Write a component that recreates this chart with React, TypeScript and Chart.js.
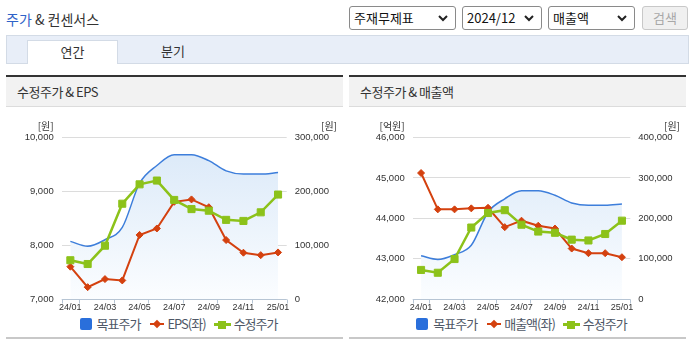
import React, { useEffect, useRef } from 'react';
import { Chart, registerables } from 'chart.js';

Chart.register(...registerables);

// ---------- data ----------
const months = ['24/01', '24/02', '24/03', '24/04', '24/05', '24/06', '24/07', '24/08', '24/09', '24/10', '24/11', '24/12', '25/01'];
const targetPrice = [107000, 98000, 110000, 133000, 215000, 248000, 268000, 268000, 257000, 238000, 232000, 232000, 235000];
const adjPrice = [72000, 65000, 99000, 177000, 213000, 220000, 184000, 167000, 164000, 147000, 145000, 161000, 194000];
const eps = [7600, 7220, 7370, 7345, 8190, 8310, 8805, 8850, 8705, 8095, 7860, 7815, 7865];
const sales = [45120, 44220, 44220, 44245, 44260, 43780, 43940, 43815, 43745, 43250, 43135, 43135, 43035];

const epsAxis = [7000, 10000, 1000];
const salesAxis = [42000, 46000, 1000];
const priceAxisLeftChart = [0, 300000, 100000];
const priceAxisRightChart = [0, 400000, 100000];

// ---------- styles ----------
const BLUE = '#3d7edb';
const RED = '#d4410f';
const GREEN = '#8cc21a';
const KR = '"Noto Sans CJK KR", "Noto Sans", sans-serif';
const NUM = '"Liberation Sans", Arial, sans-serif';

const fmt = (v: number | string) => Number(v).toLocaleString('en-US');

const decoPlugin = {
  id: 'deco',
  afterDraw(chart: any, _args: any, o: any) {
    const { ctx, chartArea: ca } = chart;
    const xs = chart.scales.x;
    ctx.save();
    ctx.strokeStyle = '#b7c5d4';
    ctx.lineWidth = 1;
    ctx.beginPath();
    const yb = Math.round(ca.bottom) + 0.5;
    ctx.moveTo(ca.left, yb);
    ctx.lineTo(ca.right, yb);
    const half = (xs.getPixelForValue(1) - xs.getPixelForValue(0)) / 2;
    const marks = [ca.left];
    for (let i = 0; i < months.length; i += 2) marks.push(xs.getPixelForValue(i) + half);
    for (const m of marks) {
      const px = Math.round(m) + 0.5;
      ctx.moveTo(px, yb);
      ctx.lineTo(px, yb + 4);
    }
    ctx.stroke();
    ctx.fillStyle = '#333';
    ctx.font = '10px ' + KR;
    ctx.textBaseline = 'middle';
    ctx.textAlign = 'right';
    ctx.fillText(o.leftUnit, chart.scales.yL.right - 8, ca.top - 11);
    ctx.fillText(o.rightUnit, chart.width - 6, ca.top - 11);
    ctx.restore();
  },
};

function gradientFill(c: any) {
  const chart = c.chart;
  const ca = chart.chartArea;
  if (!ca) return 'rgba(220,234,249,0.6)';
  const g = chart.ctx.createLinearGradient(0, ca.top, 0, ca.bottom);
  g.addColorStop(0, '#d9e8f8');
  g.addColorStop(1, '#fbfdff');
  return g;
}

function buildConfig(leftData: number[], leftAxis: number[], rightAxis: number[], leftW: number, rightW: number, leftUnit: string) {
  const tickFont = { family: NUM, size: 9.5 };
  return {
    type: 'line',
    data: {
      labels: months,
      datasets: [
        {
          label: '수정주가', data: adjPrice, yAxisID: 'yR', order: 0,
          borderColor: GREEN, backgroundColor: GREEN, borderWidth: 2.5,
          pointStyle: 'rect', pointRadius: 5, pointBorderWidth: 1,
          pointBackgroundColor: GREEN, pointBorderColor: GREEN, tension: 0,
        },
        {
          label: 'left', data: leftData, yAxisID: 'yL', order: 1,
          borderColor: RED, backgroundColor: RED, borderWidth: 2,
          pointStyle: 'rectRot', pointRadius: 3.5, pointBorderWidth: 1,
          pointBackgroundColor: RED, pointBorderColor: RED, tension: 0,
        },
        {
          label: '목표주가', data: targetPrice, yAxisID: 'yR', order: 2,
          borderColor: BLUE, borderWidth: 1.5, pointRadius: 0,
          fill: 'origin', backgroundColor: gradientFill,
          cubicInterpolationMode: 'monotone',
        },
      ],
    },
    options: {
      responsive: false,
      animation: false,
      events: [],
      layout: { padding: { top: 29.5, left: 0, right: 0, bottom: 1 } },
      plugins: {
        legend: { display: false },
        tooltip: { enabled: false },
        deco: { leftUnit, rightUnit: '[원]' },
      },
      scales: {
        x: {
          type: 'category',
          offset: true,
          grid: { display: false, drawTicks: false },
          border: { display: false },
          ticks: {
            autoSkip: false, maxRotation: 0, minRotation: 0, padding: 3,
            color: '#333', font: { family: NUM, size: 9 },
            callback: (_v: any, i: number) => (i % 2 === 0 ? months[i] : ''),
          },
          afterFit: (s: any) => { s.height = 14; },
        },
        yL: {
          position: 'left',
          min: leftAxis[0], max: leftAxis[1],
          ticks: { stepSize: leftAxis[2], padding: 8, color: '#333', font: tickFont, callback: fmt },
          grid: { color: '#dcdcdc', drawTicks: false },
          border: { display: false },
          afterFit: (s: any) => { s.width = leftW; },
        },
        yR: {
          position: 'right',
          min: rightAxis[0], max: rightAxis[1],
          ticks: { stepSize: rightAxis[2], padding: 8, color: '#333', font: tickFont, callback: fmt },
          grid: { display: false, drawTicks: false },
          border: { display: false },
          afterFit: (s: any) => { s.width = rightW; },
        },
      },
    },
    plugins: [decoPlugin],
  };
}

function ChartCanvas({ config, left, top }: { config: any; left: number; top: number }) {
  const ref = useRef<HTMLCanvasElement>(null);
  useEffect(() => {
    const chart = new Chart(ref.current as HTMLCanvasElement, config);
    return () => chart.destroy();
  }, []);
  return <canvas ref={ref} width={337} height={206} style={{ position: 'absolute', left, top, width: 337, height: 206 }} />;
}

function Legend({ left, leftLabel }: { left: number; leftLabel: string }) {
  const txt: React.CSSProperties = { fontFamily: KR, fontSize: 13, letterSpacing: '-1px', color: '#4e5766', lineHeight: '16px' };
  return (
    <div style={{ position: 'absolute', left, top: 316, width: 337, height: 16, display: 'flex', justifyContent: 'center', alignItems: 'center', paddingLeft: 8, boxSizing: 'border-box' }}>
      <div style={{ width: 12, height: 12, background: '#2a6fdb', borderRadius: 2, marginRight: 5 }} />
      <span style={{ ...txt, marginRight: 10 }}>목표주가</span>
      <div style={{ position: 'relative', width: 14, height: 12, marginRight: 3 }}>
        <div style={{ position: 'absolute', left: 0, top: 5, width: 14, height: 2, background: RED }} />
        <div style={{ position: 'absolute', left: 4, top: 3, width: 6, height: 6, background: RED, transform: 'rotate(45deg)' }} />
      </div>
      <span style={{ ...txt, marginRight: 8 }}>{leftLabel}</span>
      <div style={{ position: 'relative', width: 17, height: 12, marginRight: 3 }}>
        <div style={{ position: 'absolute', left: 0, top: 5, width: 17, height: 3, background: GREEN }} />
        <div style={{ position: 'absolute', left: 4.5, top: 2.5, width: 8, height: 8, background: GREEN }} />
      </div>
      <span style={txt}>수정주가</span>
    </div>
  );
}

function Select({ left, width, text }: { left: number; width: number; text: string }) {
  return (
    <div style={{ position: 'absolute', left, top: 6, width, height: 24, boxSizing: 'border-box', border: '1px solid #8a8a8a', borderRadius: 3, background: '#fff', fontFamily: KR, fontSize: 13, color: '#111', lineHeight: '22px', paddingLeft: 4 }}>
      {text}
      <svg width="10" height="7" style={{ position: 'absolute', right: 7, top: 8 }}>
        <polyline points="1,1 5,5 9,1" fill="none" stroke="#222" strokeWidth="2" />
      </svg>
    </div>
  );
}

function Panel({ left, title }: { left: number; title: string }) {
  return (
    <>
      <div style={{ position: 'absolute', left, top: 75, width: 337, height: 2, background: '#333' }} />
      <div style={{ position: 'absolute', left, top: 77, width: 337, height: 30, boxSizing: 'border-box', background: '#f2f2f2', borderBottom: '1px solid #dcdcdc' }}>
        <span style={{ position: 'absolute', left: 11, top: 6, fontFamily: KR, fontSize: 13, letterSpacing: '-0.5px', color: '#333', lineHeight: '18px' }}>{title}</span>
      </div>
      <div style={{ position: 'absolute', left, top: 337, width: 337, height: 2, background: '#c8c8c8' }} />
    </>
  );
}

export default function App() {
  const cfgLeft = buildConfig(eps, epsAxis, priceAxisLeftChart, 55.7, 56.3, '[원]');
  const cfgRight = buildConfig(sales, salesAxis, priceAxisRightChart, 63.7, 55.7, '[억원]');
  return (
    <div style={{ position: 'absolute', left: 0, top: 0, width: 694, height: 347, background: '#fff', overflow: 'hidden', fontFamily: KR }}>
      <div style={{ position: 'absolute', left: 6, top: 9, fontSize: 14, lineHeight: '20px', whiteSpace: 'nowrap' }}>
        <span style={{ color: '#2f62c8' }}>주가</span>
        <span style={{ color: '#333' }}> &amp; 컨센서스</span>
      </div>
      <Select left={349} width={107} text="주재무제표" />
      <Select left={462} width={80} text="2024/12" />
      <Select left={548} width={87} text="매출액" />
      <div style={{ position: 'absolute', left: 642, top: 6, width: 46, height: 24, boxSizing: 'border-box', border: '1px solid #c8c8c8', borderRadius: 3, background: '#f0f0f0', color: '#a8a8a8', fontSize: 13, lineHeight: '22px', textAlign: 'center' }}>검색</div>

      <div style={{ position: 'absolute', left: 6, top: 35, width: 683, height: 29, boxSizing: 'border-box', background: '#e8eef8', border: '1px solid #d3dbe6' }} />
      <div style={{ position: 'absolute', left: 27, top: 40, width: 91, height: 24, boxSizing: 'border-box', background: '#fff', border: '1px solid #d3dbe6', borderBottom: 'none', fontSize: 13, color: '#333', lineHeight: '22px', textAlign: 'center' }}>연간</div>
      <div style={{ position: 'absolute', left: 148, top: 40, width: 50, height: 24, fontSize: 13, color: '#333', lineHeight: '22px', textAlign: 'center' }}>분기</div>

      <Panel left={6} title="수정주가 & EPS" />
      <Panel left={349} title="수정주가 & 매출액" />

      <ChartCanvas config={cfgLeft} left={6} top={108} />
      <ChartCanvas config={cfgRight} left={349} top={108} />

      <Legend left={6} leftLabel="EPS(좌)" />
      <Legend left={349} leftLabel="매출액(좌)" />
    </div>
  );
}
